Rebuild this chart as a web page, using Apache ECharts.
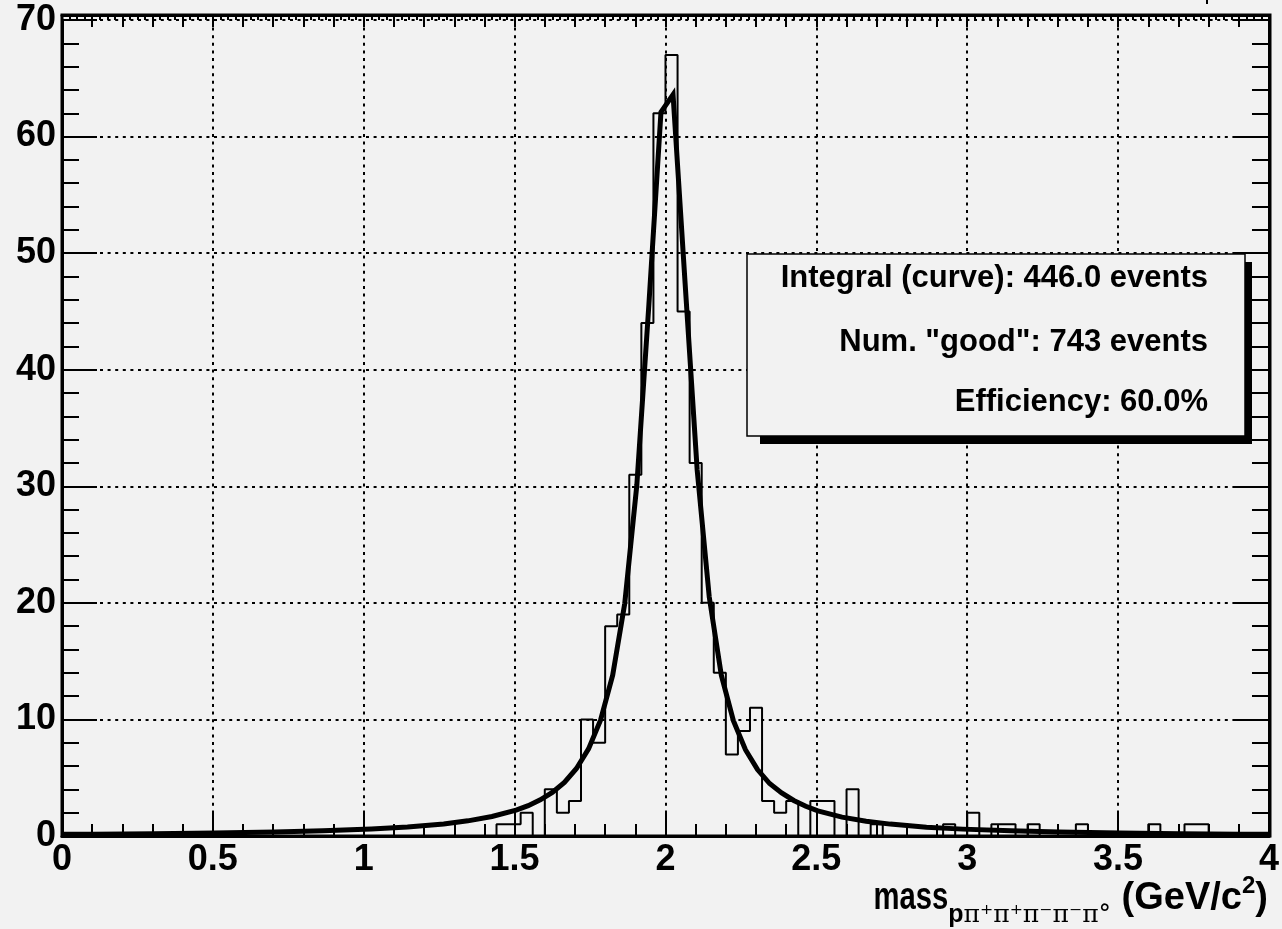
<!DOCTYPE html>
<html><head><meta charset="utf-8">
<script src="https://cdn.jsdelivr.net/npm/echarts@6/dist/echarts.min.js"></script>
<style>html,body{margin:0;padding:0;background:#f2f2f2}#c{width:1282px;height:929px}</style>
</head><body><div id="c"></div>
<script>
// ---- data ----
const xMin = 0, xMax = 4, binWidth = 0.04;
const counts = [
  0,0,0,0,0,0,0,0,0,0,   // 0.00-0.40
  0,0,0,0,0,0,0,0,0,0,   // 0.40-0.80
  0,0,0,0,0,0,0,0,0,0,   // 0.80-1.20
  0,0,0,0,0,0,1,1,2,0,   // 1.20-1.60
  4,2,3,10,8,18,19,31,44,62, // 1.60-2.00
  67,45,32,20,14,7,9,11,3,2, // 2.00-2.40
  3,0,3,3,0,4,0,1,0,0,   // 2.40-2.80
  0,0,0,1,0,2,0,1,1,0,   // 2.80-3.20
  1,0,0,0,1,0,0,0,0,0,   // 3.20-3.60
  1,0,0,1,1,0,0,0,0,0    // 3.60-4.00
];
const curveX = [0,0.105,0.305,0.505,0.705,0.865,1.025,1.145,1.265,1.345,1.425,1.505,1.545,1.585,1.625,1.665,1.705,1.745,1.785,1.825,1.865,1.905,1.945,1.985,2.025,2.065,2.105,2.145,2.185,2.225,2.265,2.305,2.345,2.385,2.425,2.465,2.505,2.585,2.665,2.745,2.865,2.985,3.145,3.305,3.505,3.705,3.905,4.0];
const curveY = [0.14,0.16,0.20,0.26,0.34,0.44,0.59,0.77,1.03,1.30,1.67,2.22,2.60,3.10,3.74,4.60,5.79,7.47,9.96,13.8,19.96,30.1,45.6,62.1,63.6,47.4,31.4,20.5,13.8,9.9,7.4,5.7,4.5,3.7,3.05,2.55,2.15,1.62,1.27,1.02,0.76,0.59,0.44,0.34,0.26,0.20,0.16,0.15];
const legendLines = ['Integral (curve): 446.0 events', 'Num. "good": 743 events', 'Efficiency: 60.0%'];
const yTicks = {min: 0, max: 70, step: 10};
const xTicks = {min: 0, max: 4, step: 0.5};

// ---- build ----
const histData = counts.map((c, i) => [xMin + i * binWidth, c]);
histData.push([xMax, counts[counts.length - 1]]);
const curveData = curveX.map((x, i) => [x, curveY[i]]);

const FONT = '"Liberation Sans", Arial, Helvetica, sans-serif';
const black = '#000';
const dotted = {type: [3, 4.6], color: black, width: 2};

const chart = echarts.init(document.getElementById('c'), null, {renderer: 'canvas'});

// title pieces measured with canvas
const ctx = document.createElement('canvas').getContext('2d');
const pieces = [
  {t: 'mass', size: 38, f: 'bold 38px ' + FONT, dy: 0, sx: 0.77},
  {t: 'p', size: 25, f: 'bold 25px ' + FONT, dy: 12, sx: 1},
  {t: 'π⁺π⁺π⁻π⁻π°', size: 25, f: '25px "DejaVu Serif", "Liberation Serif", serif', dy: 12, sx: 1},
  {t: ' (GeV/c', size: 38, f: 'bold 38px ' + FONT, dy: 0, sx: 1},
  {t: '2', size: 24, f: 'bold 24px ' + FONT, dy: -17, sx: 1},
  {t: ')', size: 38, f: 'bold 38px ' + FONT, dy: 0, sx: 1}
];
let total = 0;
pieces.forEach(p => { ctx.font = p.f; p.w = ctx.measureText(p.t).width * p.sx; total += p.w; });
const titleRight = 1268, titleBase = 912;
let cx = titleRight - total;
const titleEls = pieces.map(p => {
  const el = {type: 'text', x: cx, y: titleBase + p.dy - 0.35 * p.size, z: 10, scaleX: p.sx,
    style: {text: p.t, font: p.f, fill: black, textAlign: 'left', textVerticalAlign: 'middle'}};
  cx += p.w;
  return el;
});

const axisLine = {show: true, onZero: false, lineStyle: {color: black, width: 3}};
const gridBox = {left: 62, right: 12, top: 20, bottom: 93};
const option = {
  backgroundColor: '#f2f2f2',
  animation: false,
  grid: Object.assign({show: false}, gridBox),
  xAxis: [{
    type: 'value', min: xTicks.min, max: xTicks.max, interval: xTicks.step, position: 'bottom',
    axisLine: axisLine,
    axisTick: {show: true, inside: true, length: 24, lineStyle: {color: black, width: 2}},
    minorTick: {show: true, splitNumber: 5, length: 12, lineStyle: {color: black, width: 2}},
    splitLine: {show: true, lineStyle: dotted},
    axisLabel: {show: true, color: black, fontFamily: FONT, fontWeight: 'bold', fontSize: 36, margin: 6}
  }, {
    type: 'value', min: xTicks.min, max: xTicks.max, interval: 0.1, position: 'top', offset: 5,
    axisLine: axisLine,
    axisTick: {show: true, inside: true, length: 12, lineStyle: {color: black, width: 2}},
    minorTick: {show: true, splitNumber: 4, length: 5, lineStyle: {color: black, width: 2}},
    splitLine: {show: false}, axisLabel: {show: false}
  }],
  yAxis: [{
    type: 'value', min: yTicks.min, max: yTicks.max, interval: yTicks.step, position: 'left',
    axisLine: axisLine,
    axisTick: {show: true, inside: true, length: 35, lineStyle: {color: black, width: 2}},
    minorTick: {show: true, splitNumber: 5, length: 17, lineStyle: {color: black, width: 2}},
    splitLine: {show: true, lineStyle: dotted},
    axisLabel: {show: true, color: black, fontFamily: FONT, fontWeight: 'bold', fontSize: 36, margin: 6}
  }, {
    type: 'value', min: yTicks.min, max: yTicks.max, interval: yTicks.step, position: 'right',
    axisLine: axisLine,
    axisTick: {show: true, inside: true, length: 35, lineStyle: {color: black, width: 2}},
    minorTick: {show: true, splitNumber: 5, length: 17, lineStyle: {color: black, width: 2}},
    splitLine: {show: false}, axisLabel: {show: false}
  }],
  series: [{
    type: 'line', name: 'hist', step: 'end', data: histData, xAxisIndex: 0, yAxisIndex: 0,
    showSymbol: false, symbol: 'none', lineStyle: {color: black, width: 2}, z: 3
  }, {
    type: 'line', name: 'fit', data: curveData, xAxisIndex: 0, yAxisIndex: 0, smooth: false,
    showSymbol: false, symbol: 'none', lineStyle: {color: black, width: 5, join: 'miter'}, z: 4
  }],
  graphic: [
    // frame (plot box extends slightly above the 70 line)
    {type: 'rect', z: 5, silent: true, shape: {x: gridBox.left, y: gridBox.top - 5, width: 1282 - gridBox.left - gridBox.right, height: 929 - gridBox.bottom - gridBox.top + 5},
      style: {fill: 'none', stroke: black, lineWidth: 3}},
    {type: 'line', z: 5, shape: {x1: 1207, y1: 0, x2: 1207, y2: 4}, style: {stroke: black, lineWidth: 2}},
    {type: 'rect', z: 20, shape: {x: 760, y: 262, width: 492, height: 182}, style: {fill: black}},
    {type: 'rect', z: 21, shape: {x: 747, y: 254, width: 498, height: 182}, style: {fill: '#f2f2f2', stroke: black, lineWidth: 1.5}},
    ...legendLines.map((t, i) => ({type: 'text', z: 22, x: 1208, y: [278, 342, 402][i],
      style: {text: t, font: 'bold 31px ' + FONT, fill: black, textAlign: 'right', textVerticalAlign: 'middle'}})),
    ...titleEls
  ]
};
chart.setOption(option);
</script></body></html>
